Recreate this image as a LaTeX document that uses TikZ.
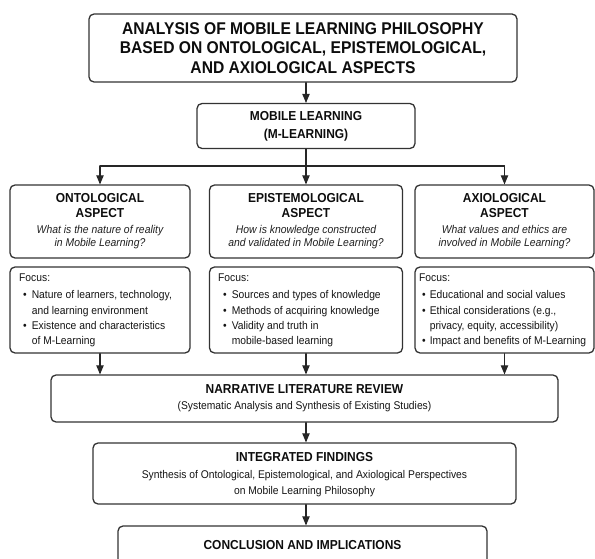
\documentclass[tikz,border=0pt]{standalone}
\usepackage{fontspec}
\setmainfont{Liberation Sans}[FakeStretch=0.92]
\usetikzlibrary{arrows}

\begin{document}
\begin{tikzpicture}[line cap=round,line join=round,>=triangle 45,x=1pt,y=-1pt,
    box/.style={draw=black!80, line width=1.3pt, rounded corners=5pt, inner sep=0pt},
    hd/.style={font=\bfseries\fontsize{13}{15}\selectfont, text=black!95, align=center},
    ask/.style={font=\itshape\fontsize{11.3}{13}\selectfont, text=black!88, align=center},
    txt/.style={font=\fontsize{11.2}{15.3}\selectfont, text=black!92, inner sep=0pt, anchor=north west},
    arr/.style={->, line width=1.1pt, draw=black!85}]
                        \useasboundingbox (0,0) rectangle (595,559);
                        \clip (0,0) rectangle (595,559);

                        % title and topic
                        \node[box, minimum width=428pt, minimum height=68pt, align=center,
                              font=\bfseries\fontsize{17}{19.5}\selectfont, text=black!95] (title) at (303,48)
                              {ANALYSIS OF MOBILE LEARNING PHILOSOPHY\\BASED ON ONTOLOGICAL, EPISTEMOLOGICAL,\\AND AXIOLOGICAL ASPECTS};
                        \node[box, hd, minimum width=218pt, minimum height=45pt, font=\bfseries\fontsize{13}{18}\selectfont] (mob) at (306,126)
                              {MOBILE LEARNING\\(M-LEARNING)};

                        % three aspects
                        \node[box, minimum width=180pt, minimum height=73pt] (ont) at (100,221.5) {};
                        \node[box, minimum width=193pt, minimum height=73pt] (epi) at (306,221.5) {};
                        \node[box, minimum width=179pt, minimum height=73pt] (axi) at (504.5,221.5) {};

                        \node[hd] (ontH) at (100,205.5) {ONTOLOGICAL\\ASPECT};
                        \node[hd] (epiH) at (306,205.5) {EPISTEMOLOGICAL\\ASPECT};
                        \node[hd] (axiH) at (504.5,205.5) {AXIOLOGICAL\\ASPECT};

                        \node[ask] (ontQ) at (100,237.5) {What is the nature of reality\\in Mobile Learning?};
                        \node[ask] (epiQ) at (306,237.5) {How is knowledge constructed\\and validated in Mobile Learning?};
                        \node[ask] (axiQ) at (504.5,237.5) {What values and ethics are\\involved in Mobile Learning?};

                        % focus boxes
                        \node[box, minimum width=180pt, minimum height=86pt] (ontF) at (100,310) {};
                        \node[box, minimum width=193pt, minimum height=86pt] (epiF) at (306,310) {};
                        \node[box, minimum width=179pt, minimum height=86pt] (axiF) at (504.5,310) {};

                        \node[txt] (ontL) at (19,271) {\begin{tabular}{@{\hspace{4pt}}l@{\hspace{5pt}}l@{}}
                              \multicolumn{2}{@{}l}{Focus:}\\[1.5pt]
                              \textbullet & Nature of learners, technology,\\
                                          & and learning environment\\
                              \textbullet & Existence and characteristics\\
                                          & of M-Learning\end{tabular}};
                        \node[txt] (epiL) at (218,271) {\begin{tabular}{@{\hspace{5pt}}l@{\hspace{5pt}}l@{}}
                              \multicolumn{2}{@{}l}{Focus:}\\[1.5pt]
                              \textbullet & Sources and types of knowledge\\
                              \textbullet & Methods of acquiring knowledge\\
                              \textbullet & Validity and truth in\\
                                          & mobile-based learning\end{tabular}};
                        \node[txt] (axiL) at (419,271) {\begin{tabular}{@{\hspace{3pt}}l@{\hspace{4pt}}l@{}}
                              \multicolumn{2}{@{}l}{Focus:}\\[1.5pt]
                              \textbullet & Educational and social values\\
                              \textbullet & Ethical considerations (e.g.,\\
                                          & privacy, equity, accessibility)\\
                              \textbullet & Impact and benefits of M-Learning\end{tabular}};

                        % review, findings, conclusion
                        \node[box, minimum width=507pt, minimum height=47pt] (nar) at (304.5,398.5) {};
                        \node[hd] (narH) at (304.5,389) {NARRATIVE LITERATURE REVIEW};
                        \node[txt, anchor=center] (narS) at (304.5,407) {(Systematic Analysis and Synthesis of Existing Studies)};

                        \node[box, minimum width=423pt, minimum height=61pt] (int) at (304.5,473.5) {};
                        \node[hd] (intH) at (304.5,457) {INTEGRATED FINDINGS};
                        \node[txt, anchor=center, align=center, font=\fontsize{11.2}{16}\selectfont] (intS) at (304.5,484)
                              {Synthesis of Ontological, Epistemological, and Axiological Perspectives\\on Mobile Learning Philosophy};

                        \node[box, minimum width=369pt, minimum height=60pt] (con) at (302.5,556) {};
                        \node[hd] (conH) at (302.5,545) {CONCLUSION AND IMPLICATIONS};

                        % connectors
                        \coordinate (split) at (306,166);
                        \draw[arr] (title.south -| mob.north) -- (mob.north);
                        \draw[line width=1.1pt, draw=black!85] (mob.south) -- (split);
                        \draw[line width=1.1pt, draw=black!85] (ont.north |- split) -- (axi.north |- split);
                        \draw[arr] (ont.north |- split) -- (ont.north);
                        \draw[arr] (split) -- (epi.north);
                        \draw[arr] (axi.north |- split) -- (axi.north);

                        \draw[arr] (ontF.south) -- (ontF.south |- nar.north);
                        \draw[arr] (epiF.south) -- (epiF.south |- nar.north);
                        \draw[arr] (axiF.south) -- (axiF.south |- nar.north);

                        \draw[arr] (nar.south -| epiF.south) -- (epiF.south |- int.north);
                        \draw[arr] (int.south -| epiF.south) -- (epiF.south |- con.north);
                    \end{tikzpicture}
\end{document}
